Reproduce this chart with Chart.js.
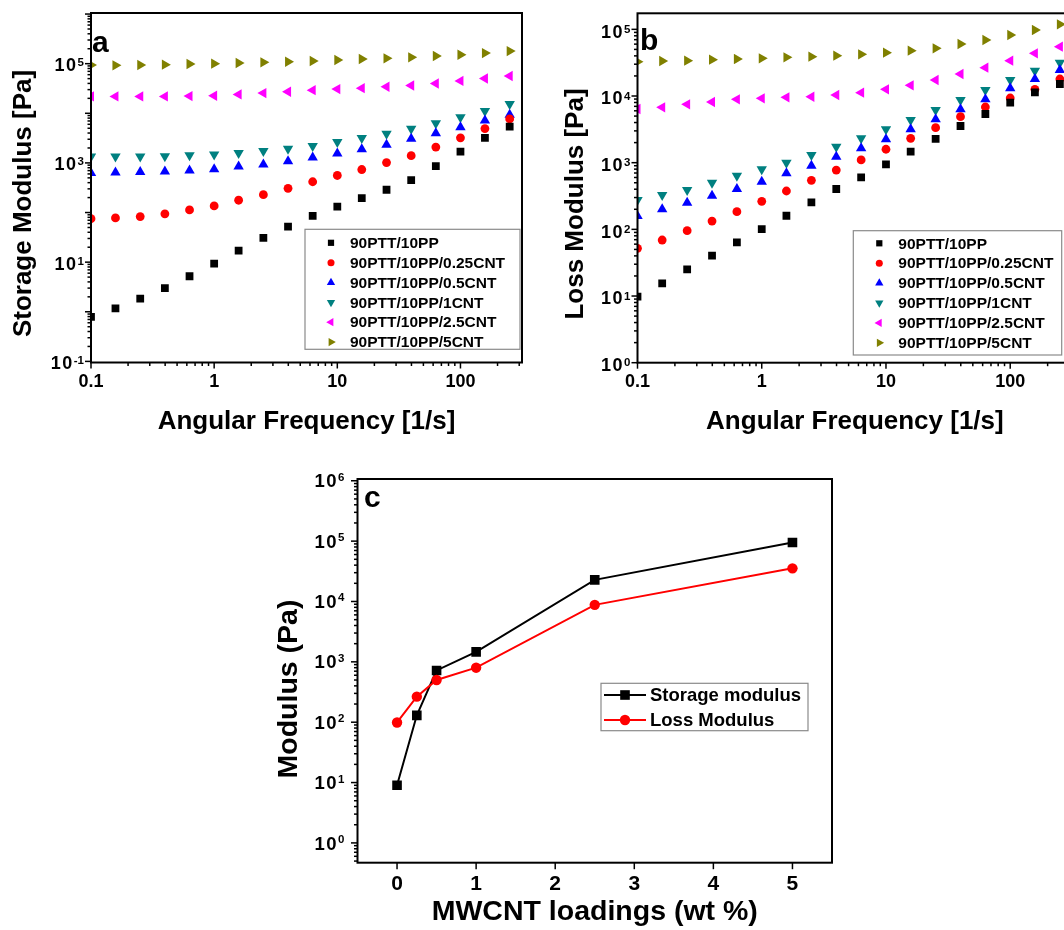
<!DOCTYPE html>
<html>
<head>
<meta charset="utf-8">
<script src="https://cdn.jsdelivr.net/npm/chart.js@4.4.0/dist/chart.umd.min.js"></script>
<style>
  html, body { margin: 0; padding: 0; background: #fff; overflow: hidden; width: 1064px; height: 930px; }
  canvas { position: absolute; }
</style>
</head>
<body>
<canvas id="chartA" width="530" height="440" style="left:0;top:0"></canvas>
<canvas id="chartB" width="550" height="440" style="left:530px;top:0"></canvas>
<canvas id="chartC" width="600" height="470" style="left:270px;top:460px"></canvas>
<script>
// ---- data ----
const freq = [0.1, 0.158, 0.251, 0.398, 0.631, 1, 1.58, 2.51, 3.98, 6.31, 10, 15.8, 25.1, 39.8, 63.1, 100, 158, 251];
const seriesNames = ['90PTT/10PP', '90PTT/10PP/0.25CNT', '90PTT/10PP/0.5CNT', '90PTT/10PP/1CNT', '90PTT/10PP/2.5CNT', '90PTT/10PP/5CNT'];

// storage modulus G' [Pa]
const storage0   = [0.79, 1.17, 1.85, 3.0, 5.2, 9.3, 17, 31, 52, 86, 132, 196, 288, 450, 858, 1690, 3210, 5410];
const storage025 = [75, 78, 83, 94, 113, 136, 177, 229, 307, 417, 558, 736, 1016, 1400, 2090, 3210, 4930, 7700];
const storage05  = [625, 640, 655, 675, 705, 745, 850, 925, 1080, 1280, 1540, 1880, 2330, 3070, 3980, 5250, 7130, 9400];
const storage1   = [1350, 1350, 1350, 1360, 1420, 1480, 1585, 1740, 1920, 2200, 2630, 3160, 3860, 4860, 6310, 8320, 11130, 15370];
const storage25  = [21900, 21900, 21900, 21900, 22200, 22600, 24000, 25500, 27100, 29300, 30700, 32100, 34200, 36300, 39800, 45000, 50100, 56600];
const storage5   = [94000, 92600, 94000, 95500, 98500, 100000, 103100, 106300, 109600, 113000, 118400, 123900, 127900, 134000, 142300, 151400, 163300, 179100];

// loss modulus G'' [Pa]
const loss0   = [9.8, 15.5, 25.1, 40.3, 63.8, 101, 160, 254, 403, 603, 944, 1460, 2270, 3550, 5370, 7940, 11350, 15140];
const loss025 = [51.9, 69.2, 95.5, 133, 184, 263, 376, 543, 776, 1100, 1590, 2320, 3350, 4900, 6840, 9330, 12590, 17990];
const loss05  = [158, 200, 251, 320, 403, 519, 692, 902, 1230, 1640, 2240, 3160, 4470, 6310, 8910, 13030, 17990, 24550];
const loss1   = [275, 327, 389, 501, 638, 794, 1000, 1300, 1740, 2320, 3160, 4370, 6170, 8710, 12300, 17380, 23990, 31620];
const loss25  = [6380, 6760, 7500, 8130, 8910, 9230, 9550, 9770, 10350, 11220, 12590, 14450, 17380, 21380, 26610, 33880, 43650, 54950];
const loss5   = [32730, 33500, 33880, 35080, 35890, 36730, 38020, 38900, 40270, 42170, 44670, 47860, 51880, 60260, 69180, 82220, 97720, 118900];

// panel c: moduli vs MWCNT loading
const loadings = [0, 0.25, 0.5, 1, 2.5, 5];
const storageVsLoading = [9, 130, 720, 1460, 22800, 95000];
const lossVsLoading = [99, 265, 500, 800, 8800, 35400];

// tick labels
const freqTickLabels = [0.1, 1, 10, 100];
const storageTickExps = [-1, 1, 3, 5];
const lossTickExps = [0, 1, 2, 3, 4, 5];
const modulusTickExps = [0, 1, 2, 3, 4, 5, 6];
const loadingTicks = [0, 1, 2, 3, 4, 5];

// ---- styling ----
const FONT = '"Liberation Sans", Arial, Helvetica, sans-serif';
Chart.defaults.font.family = FONT;
Chart.defaults.color = '#000';

const seriesColors = ['#000000', '#ff0000', '#0000ff', '#008080', '#ff00ff', '#808000'];
const markerStyles = ['rect', 'circle', 'triangle', 'triangle', 'triangle', 'triangle'];
const markerRotations = [0, 0, 0, 180, -90, 90];
const markerRadii = [5.5, 4.4, 6, 6, 6, 6];

function logTicks(lo, hi) {
  const out = [];
  for (let e = Math.floor(Math.log10(lo)); e <= Math.ceil(Math.log10(hi)); e++) {
    for (let m = 1; m <= 9; m++) {
      const v = m * Math.pow(10, e);
      if (v >= lo * 0.999 && v <= hi * 1.001) out.push({ value: v, major: m === 1 });
    }
  }
  return out;
}

function pointSets(yArrays) {
  return seriesNames.map((name, i) => ({
    label: name,
    data: freq.map((f, j) => ({ x: f, y: yArrays[i][j] })),
    showLine: false,
    pointStyle: markerStyles[i],
    pointRotation: markerRotations[i],
    pointRadius: markerRadii[i],
    pointBackgroundColor: seriesColors[i],
    pointBorderWidth: 0
  }));
}

// box + outward tick marks
const framePlugin = {
  id: 'frame',
  afterDraw(chart, args, o) {
    const { ctx, chartArea: a } = chart;
    const xs = chart.scales.x, ys = chart.scales.y;
    ctx.save();
    ctx.strokeStyle = '#000';
    ctx.lineWidth = 1.5;
    xs.ticks.forEach(t => {
      const px = xs.getPixelForValue(t.value);
      if (px < a.left - 0.5 || px > a.right + 0.5) return;
      const len = t.major ? o.major : o.minor;
      ctx.beginPath(); ctx.moveTo(px, a.bottom); ctx.lineTo(px, a.bottom + len); ctx.stroke();
    });
    ys.ticks.forEach(t => {
      const py = ys.getPixelForValue(t.value);
      if (py < a.top - 0.5 || py > a.bottom + 0.5) return;
      const len = t.major ? o.major : o.minor;
      ctx.beginPath(); ctx.moveTo(a.left, py); ctx.lineTo(a.left - len, py); ctx.stroke();
    });
    ctx.lineWidth = 2;
    ctx.strokeRect(a.left, a.top, a.right - a.left, a.bottom - a.top);
    ctx.restore();
  }
};

// 10^n labels on the y axis
const powLabelPlugin = {
  id: 'powLabels',
  afterDraw(chart, args, o) {
    const ctx = chart.ctx, ys = chart.scales.y;
    ctx.save();
    ctx.fillStyle = '#000';
    ctx.textAlign = 'left';
    o.exps.forEach(e => {
      const y = ys.getPixelForValue(Math.pow(10, e)) + o.dy;
      const sup = String(e);
      ctx.font = `bold ${o.base}px ${FONT}`;
      ctx.letterSpacing = o.spacing + 'px';
      const w1 = ctx.measureText('10').width;
      ctx.letterSpacing = '0px';
      ctx.font = `bold ${o.sup}px ${FONT}`;
      const w2 = ctx.measureText(sup).width;
      const x0 = chart.chartArea.left - o.gap - w1 - w2;
      ctx.font = `bold ${o.base}px ${FONT}`;
      ctx.letterSpacing = o.spacing + 'px';
      ctx.textBaseline = 'middle';
      ctx.fillText('10', x0, y);
      ctx.letterSpacing = '0px';
      ctx.font = `bold ${o.sup}px ${FONT}`;
      ctx.textBaseline = 'alphabetic';
      ctx.fillText(sup, x0 + w1, y + o.supDy);
    });
    ctx.restore();
  }
};

const yTitlePlugin = {
  id: 'yTitle',
  afterDraw(chart, args, o) {
    const ctx = chart.ctx;
    ctx.save();
    ctx.translate(o.x, o.y);
    ctx.rotate(-Math.PI / 2);
    ctx.font = `bold ${o.size}px ${FONT}`;
    ctx.fillStyle = '#000';
    ctx.textAlign = 'center';
    ctx.textBaseline = 'middle';
    ctx.fillText(o.text, 0, 0);
    ctx.restore();
  }
};

const letterPlugin = {
  id: 'letter',
  afterDraw(chart, args, o) {
    const { ctx, chartArea: a } = chart;
    ctx.save();
    ctx.font = `bold ${o.size}px ${FONT}`;
    ctx.fillStyle = '#000';
    ctx.textBaseline = 'alphabetic';
    ctx.fillText(o.text, a.left + o.dx, a.top + o.dy);
    ctx.restore();
  }
};

const legendPlugin = {
  id: 'boxLegend',
  afterDraw(chart, args, o) {
    const ctx = chart.ctx;
    ctx.save();
    ctx.fillStyle = '#fff';
    ctx.fillRect(o.x, o.y, o.w, o.h);
    ctx.strokeStyle = '#8a8a8a';
    ctx.lineWidth = 1.2;
    ctx.strokeRect(o.x, o.y, o.w, o.h);
    ctx.font = `bold ${o.size}px ${FONT}`;
    ctx.textBaseline = 'middle';
    chart.data.datasets.forEach((ds, i) => {
      const y = o.y + o.first + i * o.step;
      if (o.lineLen) {
        ctx.strokeStyle = ds.borderColor;
        ctx.lineWidth = ds.borderWidth;
        ctx.beginPath();
        ctx.moveTo(o.markerX - o.lineLen / 2, y);
        ctx.lineTo(o.markerX + o.lineLen / 2, y);
        ctx.stroke();
      }
      ctx.fillStyle = ds.pointBackgroundColor;
      Chart.helpers.drawPoint(ctx, {
        pointStyle: ds.pointStyle,
        rotation: ds.pointRotation || 0,
        radius: ds.pointRadius * o.scale,
        borderWidth: 0
      }, o.markerX, y);
      ctx.fillStyle = '#000';
      ctx.fillText(ds.label, o.textX, y + 1);
    });
    ctx.restore();
  }
};

const allPlugins = [framePlugin, powLabelPlugin, yTitlePlugin, letterPlugin, legendPlugin];

function freqAxis(xHeight) {
  return {
    type: 'logarithmic',
    min: 0.1,
    max: 316,
    afterBuildTicks: s => { s.ticks = logTicks(0.1, 316); },
    afterFit: s => { s.height = xHeight; },
    grid: { display: false, drawTicks: true, tickLength: 6 },
    border: { display: false },
    ticks: {
      autoSkip: false, maxRotation: 0, padding: 3, color: '#000',
      font: { size: 18, weight: 'bold' },
      callback: v => freqTickLabels.includes(v) ? String(v) : ''
    },
    title: {
      display: true, text: 'Angular Frequency [1/s]', color: '#000',
      font: { size: 26, weight: 'bold' },
      padding: { top: 0, bottom: 2.7 }
    }
  };
}

function modulusAxis(lo, hi, yWidth) {
  return {
    type: 'logarithmic',
    min: lo,
    max: hi,
    afterBuildTicks: s => { s.ticks = logTicks(lo, hi); },
    afterFit: s => { s.width = yWidth; },
    grid: { display: false },
    border: { display: false },
    ticks: { display: false }
  };
}

// panel a
new Chart(document.getElementById('chartA'), {
  type: 'scatter',
  data: { datasets: pointSets([storage0, storage025, storage05, storage1, storage25, storage5]) },
  options: {
    responsive: false,
    animation: false,
    layout: { padding: { left: 0, right: 8, top: 13, bottom: 0 } },
    scales: {
      x: freqAxis(77.5),
      y: modulusAxis(0.095, 1.05e6, 91)
    },
    plugins: {
      legend: { display: false },
      tooltip: { enabled: false },
      frame: { major: 6, minor: 3.5 },
      powLabels: { exps: storageTickExps, base: 18, sup: 11.5, spacing: 1.5, gap: 7, dy: 2.5, supDy: 0 },
      yTitle: { text: 'Storage Modulus [Pa]', x: 24, y: 203.5, size: 26 },
      letter: { text: 'a', dx: 1, dy: 38.5, size: 30 },
      boxLegend: { x: 305, y: 229.3, w: 215, h: 120, first: 13.5, step: 19.85, markerX: 331, textX: 350, size: 15.5, scale: 0.8, lineLen: 0 }
    }
  },
  plugins: allPlugins
});

// panel b
new Chart(document.getElementById('chartB'), {
  type: 'scatter',
  data: { datasets: pointSets([loss0, loss025, loss05, loss1, loss25, loss5]) },
  options: {
    responsive: false,
    animation: false,
    layout: { padding: { left: 0, right: 7.7, top: 13.3, bottom: 0 } },
    scales: {
      x: freqAxis(77.3),
      y: modulusAxis(1, 1.74e5, 107.5)
    },
    plugins: {
      legend: { display: false },
      tooltip: { enabled: false },
      frame: { major: 6, minor: 3.5 },
      powLabels: { exps: lossTickExps, base: 18, sup: 11.5, spacing: 1.5, gap: 7, dy: 3.5, supDy: 0 },
      yTitle: { text: 'Loss Modulus [Pa]', x: 46, y: 204, size: 26 },
      letter: { text: 'b', dx: 2.5, dy: 36.7, size: 30 },
      boxLegend: { x: 323.3, y: 230.7, w: 208.4, h: 124.3, first: 12.6, step: 19.9, markerX: 349.3, textX: 368.3, size: 15.5, scale: 0.8, lineLen: 0 }
    }
  },
  plugins: allPlugins
});

// panel c
new Chart(document.getElementById('chartC'), {
  type: 'line',
  data: {
    datasets: [
      {
        label: 'Storage modulus',
        data: loadings.map((x, j) => ({ x, y: storageVsLoading[j] })),
        borderColor: '#000', borderWidth: 2, tension: 0,
        pointStyle: 'rect', pointRadius: 6.8, pointBackgroundColor: '#000', pointBorderWidth: 0,
        order: 1
      },
      {
        label: 'Loss Modulus',
        data: loadings.map((x, j) => ({ x, y: lossVsLoading[j] })),
        borderColor: '#ff0000', borderWidth: 2, tension: 0,
        pointStyle: 'circle', pointRadius: 5.2, pointBackgroundColor: '#ff0000', pointBorderWidth: 0,
        order: 0
      }
    ]
  },
  options: {
    responsive: false,
    animation: false,
    layout: { padding: { left: 0, right: 38, top: 19, bottom: 0 } },
    scales: {
      x: {
        type: 'linear',
        min: -0.5,
        max: 5.5,
        afterBuildTicks: s => { s.ticks = loadingTicks.map(v => ({ value: v, major: true })); },
        afterFit: s => { s.height = 67.3; },
        grid: { display: false, drawTicks: true, tickLength: 6 },
        border: { display: false },
        ticks: { autoSkip: false, maxRotation: 0, padding: 2.5, color: '#000', font: { size: 21, weight: 'bold' } },
        title: {
          display: true, text: 'MWCNT loadings (wt %)', color: '#000',
          font: { size: 28.5, weight: 'bold' },
          padding: { top: 0, bottom: 1.2 }
        }
      },
      y: modulusAxis(0.47, 1.07e6, 87.5)
    },
    plugins: {
      legend: { display: false },
      tooltip: { enabled: false },
      frame: { major: 6.5, minor: 3.5 },
      powLabels: { exps: modulusTickExps, base: 18.5, sup: 11.5, spacing: 1.5, gap: 13, dy: 1.5, supDy: -1.5 },
      yTitle: { text: 'Modulus (Pa)', x: 19.6, y: 229, size: 28.5 },
      letter: { text: 'c', dx: 6.5, dy: 28, size: 30 },
      boxLegend: { x: 331, y: 223.3, w: 207, h: 47.4, first: 11.7, step: 25, markerX: 355, textX: 380, size: 18.5, scale: 1, lineLen: 42 }
    }
  },
  plugins: allPlugins
});
</script>
</body>
</html>
